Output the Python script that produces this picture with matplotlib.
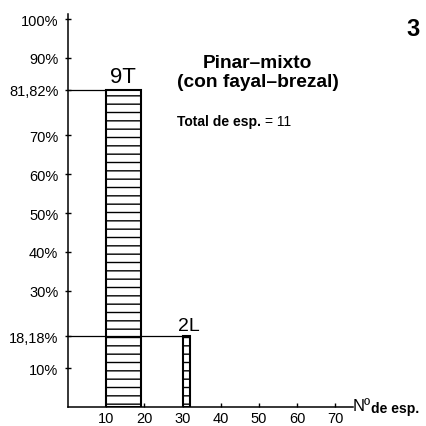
from matplotlib import pyplot as plt

# Percentage of species per life-form class
classes = ['9T', '2L']
n_species = [9, 2]
x_start = [10, 30]
percent = [81.82, 18.18]

y_ticks = [10, 18.18, 30, 40, 50, 60, 70, 81.82, 90, 100]
y_labels = ['10%', '18,18%', '30%', '40%', '50%', '60%', '70%', '81,82%', '90%', '100%']
x_ticks = [10, 20, 30, 40, 50, 60, 70]

title_lines = ['Pinar\u2013mixto', '(con fayal\u2013brezal)']
total_species = 11
panel = '3'

plt.rcParams['font.family'] = ['Liberation Sans', 'DejaVu Sans']
plt.rcParams['hatch.linewidth'] = 1.0

fig = plt.figure(figsize=(4.27, 4.27), dpi=100)
ax = fig.add_axes([0.1593, 0.0445, 0.6665, 0.9204])

ax.bar(x_start, percent, width=n_species, align='edge', color='white',
       edgecolor='black', linewidth=1.5, hatch='--', zorder=3)

# guide lines from the axis to each bar top
for xs, p in zip(x_start, percent):
    ax.plot([0, xs], [p, p], color='black', linewidth=0.9, zorder=4)

for xs, w, p, name in zip(x_start, n_species, percent, classes):
    ax.text(xs + w / 2 + (0.6 if w < 5 else 0), p + 0.6, name,
            ha='center', va='bottom', fontsize=16 if w > 5 else 14)

ax.set_xlim(0, 74.5)
ax.set_ylim(0, 101.3)
ax.set_xticks(x_ticks)
ax.set_yticks(y_ticks)
ax.set_yticklabels(y_labels)
ax.tick_params(axis='y', direction='inout', length=5, width=1, pad=4.5, labelsize=10.5)
ax.tick_params(axis='x', direction='in', length=3, width=1, pad=3, labelsize=10.5)
for side in ['top', 'right']:
    ax.spines[side].set_visible(False)
for side in ['left', 'bottom']:
    ax.spines[side].set_linewidth(1.1)

ax.text(49.7, 88.7, title_lines[0], ha='center', va='center',
        fontsize=13.8, fontweight='bold')
ax.text(49.7, 84.0, title_lines[1], ha='center', va='center',
        fontsize=13.8, fontweight='bold')

t1 = ax.text(28.5, 73.7, 'Total de esp. ', ha='left', va='center',
             fontsize=10, fontweight='bold')
ax.annotate('= %d' % total_species, xy=(1, 0.5), xycoords=t1,
            ha='left', va='center', fontsize=10)

fig.text(0.967, 0.932, panel, ha='center', va='center',
         fontsize=17, fontweight='bold')

t2 = fig.text(0.826, 0.049, 'N\u00ba', ha='left', va='center', fontsize=12)
ax.annotate('de esp.', xy=(1, 0.3), xycoords=t2, ha='left', va='center',
            fontsize=10, fontweight='bold', annotation_clip=False)

fig.savefig('out.png', dpi=100, facecolor='white')
